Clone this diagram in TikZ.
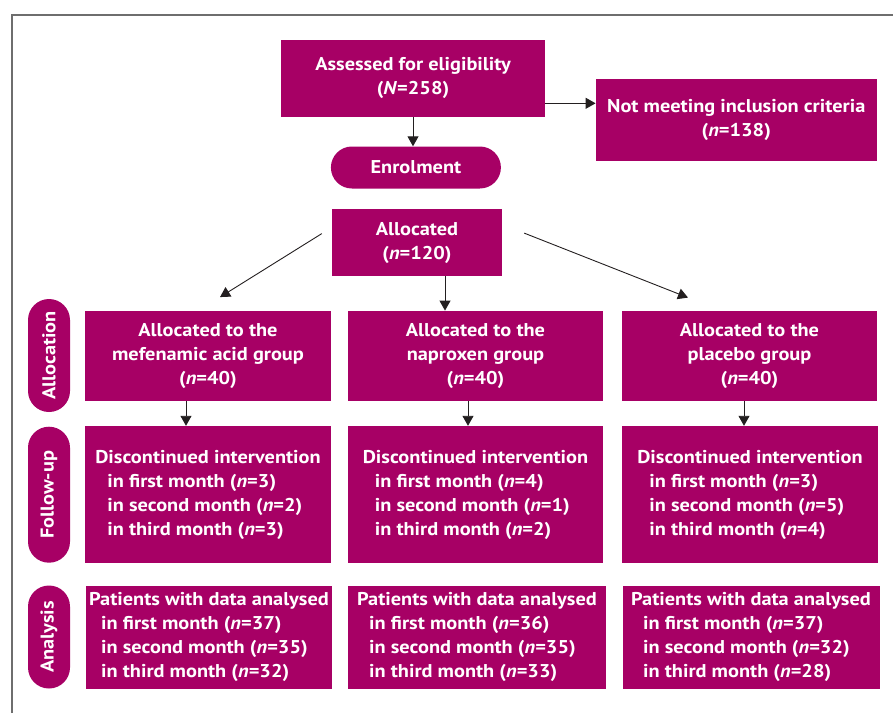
\documentclass[tikz,border=0pt]{standalone}
\usepackage{fontspec}
\setmainfont{PT Sans}[FakeStretch=1.1]
\usetikzlibrary{arrows.meta,shapes.misc}
\definecolor{trialmagenta}{RGB}{167,0,101}
\definecolor{framegray}{RGB}{110,110,110}
\definecolor{arrowblack}{RGB}{35,31,32}

\begin{document}
\begin{tikzpicture}[x=1pt,y=-1pt,
    every node/.style={font=\bfseries\fontsize{18.5}{24}\selectfont,text=white,inner sep=0pt},
    flowbox/.style={fill=trialmagenta,align=center},
    stagebox/.style={fill=trialmagenta,align=left},
    pill/.style={fill=trialmagenta,rounded rectangle},
    flowarrow/.style={draw=arrowblack,line width=0.9pt,-{Triangle[width=11pt,length=10pt]}}]
        \useasboundingbox (0,0) rectangle (893,713);
        \draw[framegray,line width=1.3pt] (12,713) -- (12,15) -- (893,15);

        % enrolment
        \node[flowbox,minimum width=264,minimum height=77] (assess) at (413,78.3) {Assessed for eligibility\\(\textit{N}=258)};
        \node[flowbox,minimum width=281,minimum height=82] (exclude) at (736.3,119.9) {Not meeting inclusion criteria\\(\textit{n}=138)};
        \node[pill,minimum width=170,minimum height=42] (enrol) at (415.9,167.5) {Enrolment};
        \node[flowbox,minimum width=170,minimum height=67] (alloc) at (417,242.6) {Allocated\\(\textit{n}=120)};

        % stage labels
        \node[pill,rotate=90,minimum width=113,minimum height=42] (allocLabel) at (49,355.5) {Allocation};
        \node[pill,rotate=90,minimum width=136,minimum height=42] (followLabel) at (49,494.7) {Follow-up};
        \node[pill,rotate=90,minimum width=103,minimum height=42] (analysisLabel) at (49,637) {Analysis};

        % allocation
        \node[flowbox,minimum width=246,minimum height=90] (mefGroup) at (208,355.8) {Allocated to the\\mefenamic acid group\\(\textit{n}=40)};
        \node[flowbox,minimum width=255,minimum height=90] (napGroup) at (475.5,355.8) {Allocated to the\\naproxen group\\(\textit{n}=40)};
        \node[flowbox,minimum width=255,minimum height=90] (plaGroup) at (749.5,355.8) {Allocated to the\\placebo group\\(\textit{n}=40)};

        % follow-up
        \node[stagebox,minimum width=246,minimum height=137] (mefFollow) at (208,494.5) {Discontinued intervention\\\hspace*{12pt}in first month (\textit{n}=3)\\\hspace*{12pt}in second month (\textit{n}=2)\\\hspace*{12pt}in third month (\textit{n}=3)};
        \node[stagebox,minimum width=255,minimum height=137] (napFollow) at (475.5,494.5) {Discontinued intervention\\\hspace*{12pt}in first month (\textit{n}=4)\\\hspace*{12pt}in second month (\textit{n}=1)\\\hspace*{12pt}in third month (\textit{n}=2)};
        \node[stagebox,minimum width=256,minimum height=137] (plaFollow) at (750,494.5) {Discontinued intervention\\\hspace*{12pt}in first month (\textit{n}=3)\\\hspace*{12pt}in second month (\textit{n}=5)\\\hspace*{12pt}in third month (\textit{n}=4)};

        % analysis
        \node[stagebox,minimum width=246,minimum height=103] (mefAnalysis) at (209,637.3) {Patients with data analysed\\\hspace*{12pt}in first month (\textit{n}=37)\\\hspace*{12pt}in second month (\textit{n}=35)\\\hspace*{12pt}in third month (\textit{n}=32)};
        \node[stagebox,minimum width=258,minimum height=103] (napAnalysis) at (477,637.3) {Patients with data analysed\\\hspace*{12pt}in first month (\textit{n}=36)\\\hspace*{12pt}in second month (\textit{n}=35)\\\hspace*{12pt}in third month (\textit{n}=33)};
        \node[stagebox,minimum width=257,minimum height=103] (plaAnalysis) at (751,637.3) {Patients with data analysed\\\hspace*{12pt}in first month (\textit{n}=37)\\\hspace*{12pt}in second month (\textit{n}=32)\\\hspace*{12pt}in third month (\textit{n}=28)};

        % arrows
        \draw[flowarrow] (assess.south) -- (assess.south |- enrol.north);
        \draw[flowarrow] ([yshift=-25pt]assess.east) -- ([yshift=-25pt]assess.east -| exclude.west);
        \draw[flowarrow] ([xshift=-10pt,yshift=9pt]alloc.west) -- ([xshift=12pt,yshift=13.5pt]mefGroup.north);
        \draw[flowarrow] ([xshift=28pt]alloc.south) -- ([xshift=28pt]alloc.south |- napGroup.north);
        \draw[flowarrow] ([xshift=22pt,yshift=9.5pt]alloc.east) -- ([xshift=-61.5pt,yshift=13pt]plaGroup.north);
        \draw[flowarrow] ([xshift=-22pt]mefGroup.south) -- ([xshift=-22pt]mefGroup.south |- mefFollow.north);
        \draw[flowarrow] ([xshift=-7.5pt]napGroup.south) -- ([xshift=-7.5pt]napGroup.south |- napFollow.north);
        \draw[flowarrow] ([xshift=-5.5pt]plaGroup.south) -- ([xshift=-5.5pt]plaGroup.south |- plaFollow.north);
      \end{tikzpicture}
\end{document}
